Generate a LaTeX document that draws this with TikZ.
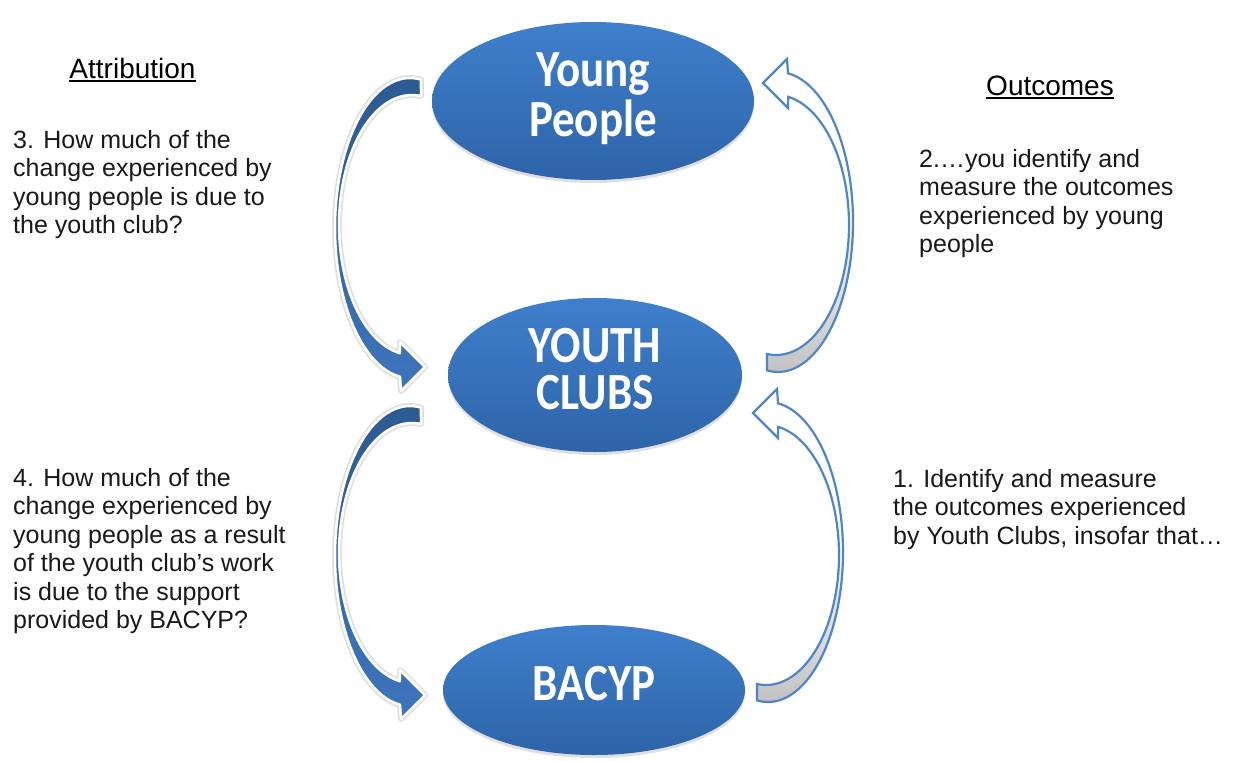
\documentclass[tikz,border=0pt]{standalone}
\usepackage{graphicx}
\usepackage{fontspec}
\setmainfont{Liberation Sans}
\newfontfamily\bubblefont{Carlito}
\usetikzlibrary{shapes.geometric,shadows}

\definecolor{bubbleTop}{HTML}{3F7FCC}
\definecolor{bubbleBot}{HTML}{2E64A8}
\definecolor{navyTop}{HTML}{2C5A91}
\definecolor{navyBot}{HTML}{3D75BD}
\definecolor{rimBlue}{HTML}{4F86C8}
\definecolor{tailGrey}{HTML}{C2C2C2}

% underlined heading word with a thick rule
\newcommand\ulword[1]{\setbox0\hbox{#1}\rlap{\rule[-4pt]{\wd0}{1.8pt}}\box0}
% tall, centred label lines inside the ellipses
\newcommand\tallstack[1]{\scalebox{1}[1.16]{\begin{tabular}{@{}c@{}}#1\end{tabular}}}

% curved block arrow: tail at the top, head at the bottom, bulging left
\newcommand\bendarrow{%
  (400,376.7)
  -- plot[variable=\t, domain=97.66:278.4, samples=70, smooth]
       ({410+75*cos(\t)},{228+150*sin(\t)})
  -- plot[variable=\t, domain=0:1, samples=70, smooth]
       ({412+73*cos(277.1-177.64*\t)},{225+130*sin(277.1-177.64*\t)})
  -- (400,342) -- (425,367) -- (401,391) -- cycle}

\begin{document}
\begin{tikzpicture}[x=1pt,y=-1pt,
  bubble/.style={ellipse, inner sep=0pt, top color=bubbleTop, bottom color=bubbleBot,
    text=white, align=center,
    font=\bubblefont\bfseries\fontsize{45}{37}\selectfont,
    drop shadow={shadow xshift=0pt, shadow yshift=-3pt, opacity=0.25}},
  heading/.style={font=\fontsize{28}{32}\selectfont, anchor=base, inner sep=0pt},
  body/.style={font=\fontsize{25}{28.5}\selectfont, align=left, anchor=north west,
    inner sep=0pt, text=black!90},
  halo/.style={draw=black!12, line width=6pt, line join=round},
  navyarrow/.style={top color=navyTop, bottom color=navyBot, draw=white,
    line width=2.5pt, line join=round},
  outlinearrow/.style={top color=white, bottom color=tailGrey, middle color=white,
    draw=rimBlue, line width=2.2pt, line join=miter}]

\fill[white] (0,0) rectangle (1238,760);
\useasboundingbox (0,0) rectangle (1238,760);

% left arrows (attribution)
\path[halo] \bendarrow;
\path[navyarrow] \bendarrow;
\begin{scope}[shift={(0,328)}]
  \path[halo] \bendarrow;
  \path[navyarrow] \bendarrow;
\end{scope}

% right arrows (outcomes)
\begin{scope}[rotate around={180:(594,225)}]
  \path[outlinearrow] \bendarrow;
\end{scope}
\begin{scope}[rotate around={180:(589,390)}]
  \path[outlinearrow] \bendarrow;
\end{scope}

% the three levels
\node[bubble, minimum width=322pt, minimum height=158pt] (yp) at (593,101) {\tallstack{Young\\People}};
\node[bubble, minimum width=294pt, minimum height=154pt] (yc) at (595,375) {\tallstack{YOUTH\\CLUBS}};
\node[bubble, minimum width=302pt, minimum height=130pt] (bc) at (594,690) {\tallstack{BACYP}};

% headings
\node[heading] (attr) at (132.5,78) {\ulword{Attribution}};
\node[heading] (outc) at (1050,95) {\ulword{Outcomes}};

% questions and steps
\node[body] (q3) at (13,128) {\strut 3. How much of the\\change experienced by\\young people is due to\\the youth club?};
\node[body] (q2) at (919,147) {\strut 2.…you identify and\\measure the outcomes\\experienced by young\\people};
\node[body] (q4) at (13,466) {\strut 4. How much of the\\change experienced by\\young people as a result\\of the youth club’s work\\is due to the support\\provided by BACYP?};
\node[body] (q1) at (893,467) {\strut 1. Identify and measure\\the outcomes experienced\\by Youth Clubs, insofar that…};
\end{tikzpicture}
\end{document}
